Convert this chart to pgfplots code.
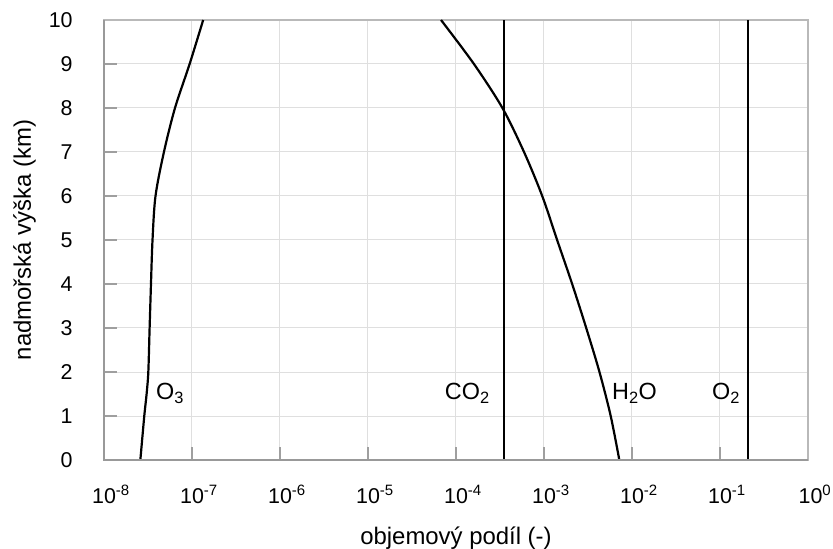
\documentclass[border=0pt]{standalone}
\usepackage{fontspec}
\setmainfont{Liberation Sans}
\usepackage{pgfplots}
\pgfplotsset{compat=1.18}

\begin{document}
\fontsize{21.5}{25}\selectfont
\begin{tikzpicture}
% frame of the whole picture: 833 x 549 with the plot box at (104,20)-(808,460)
\path[use as bounding box] (-104bp,-89bp) rectangle (729bp,460bp);
\begin{axis}[
    scale only axis,
    width=704bp, height=440bp,
    at={(0,0)}, anchor=south west,
    xmode=log,
    xmin=1e-8, xmax=1,
    ymin=0, ymax=10,
    xtick={1e-8,1e-7,1e-6,1e-5,1e-4,1e-3,1e-2,1e-1,1},
    xticklabels={10\textsuperscript{-8},10\textsuperscript{-7},10\textsuperscript{-6},10\textsuperscript{-5},10\textsuperscript{-4},10\textsuperscript{-3},10\textsuperscript{-2},10\textsuperscript{-1},10\textsuperscript{0}},
    ytick={0,1,...,10},
    /pgf/number format/assume math mode=true,
    xminorticks=false,
    tick pos=left,
    tick align=inside,
    major tick length=13bp,
    tick style={draw=gray!75, line width=1.2bp},
    grid=major,
    grid style={draw=gray!25, line width=1bp},
    axis line style={draw=gray!55, line width=1.2bp},
    yticklabel style={anchor=east, xshift=-24bp},
    xticklabel style={anchor=north, xshift=7bp, yshift=-18bp},
    ylabel={nadmořská výška (km)},
    xlabel={objemový podíl (-)},
    label style={font=\fontsize{24}{28}\selectfont},
    ylabel style={at={(axis description cs:-0.113,0.5)}, anchor=center},
    xlabel style={at={(axis description cs:0.5,-0.177)}, anchor=center},
    clip=false,
]
% O3
\addplot[black, line width=2.2bp, smooth] coordinates {
    (2.59e-8,0) (2.87e-8,1) (3.05e-8,1.5) (3.19e-8,2) (3.30e-8,3)
    (3.42e-8,4) (3.56e-8,5) (3.85e-8,6) (4.80e-8,7)
    (6.41e-8,8) (9.40e-8,9) (1.34e-7,10)};
% H2O
\addplot[black, line width=2.2bp, smooth] coordinates {
    (7.18e-3,0) (5.73e-3,1) (4.27e-3,2) (3.02e-3,3) (2.09e-3,4)
    (1.41e-3,5) (9.55e-4,6) (5.93e-4,7) (3.37e-4,8) (1.60e-4,9)
    (6.76e-5,10)};
% CO2
\addplot[black, line width=2.2bp] coordinates {(3.5e-4,0) (3.5e-4,10)};
% O2
\addplot[black, line width=2.2bp] coordinates {(0.21,0) (0.21,10)};

\draw[gray!80, line width=1.2bp] (rel axis cs:0,1) -- (rel axis cs:0,0) -- (rel axis cs:1,0);

\begin{scope}[every node/.style={inner sep=0pt, font=\fontsize{23.5}{28}\selectfont}]
\node[anchor=west] at (axis cs:3.9e-8,1.52) {O\textsubscript{3}};
\node[anchor=east] at (axis cs:2.43e-4,1.52) {CO\textsubscript{2}};
\node[anchor=west] at (axis cs:5.93e-3,1.52) {H\textsubscript{2}O};
\node[anchor=west] at (axis cs:0.081,1.52) {O\textsubscript{2}};
\end{scope}
\end{axis}
\end{tikzpicture}
\end{document}
